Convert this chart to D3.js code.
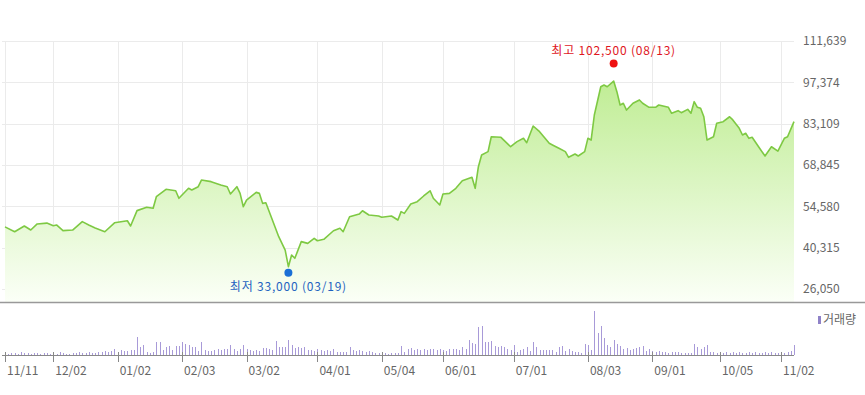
<!DOCTYPE html>
<html>
<head>
<meta charset="utf-8">
<script src="https://cdn.jsdelivr.net/npm/d3@7"></script>
<style>
  body { margin: 0; background: #fff; }
  text { font-family: "Noto Sans CJK KR", "Noto Sans", sans-serif; }
</style>
</head>
<body>
<div id="chart"></div>
<script>
// trading-day index (0 = 11/11) and closing price
const priceDay = [0,3,6,8,10,13,15,16,18,21,24,26,28,31,34,38,39,41,44,46,
  47,50,53,54,57,58,60,61,64,67,69,70,72,73,74,75,78,79,80,81,
  85,87,88,89,90,92,94,96,97,99,102,104,105,107,110,111,113,116,117,120,
  122,123,124,126,128,130,132,133,135,136,138,140,142,145,146,147,148,150,151,154,
  157,159,161,162,164,166,169,170,172,174,175,177,178,180,181,182,183,185,186,187,
  189,190,191,192,193,195,197,198,200,202,203,206,207,209,210,212,213,214,215,216,
  217,218,220,221,223,225,226,228,229,230,231,232,234,236,238,240,242,243,245];
const priceClose = [47500,45800,47800,46400,48500,48800,47900,48150,46200,46400,
  49300,48150,47100,45800,48900,49600,47800,53100,54250,53900,
  57900,60450,59950,57350,60800,60200,61350,63650,63100,61950,
  61350,58850,61350,59050,54450,56750,59400,59050,55600,55800,
  44100,39500,33750,37800,36650,42400,41800,43550,42700,43200,
  46150,47000,45800,51000,51900,53050,51600,51250,50800,51250,
  49850,52750,52150,55400,56200,58150,59950,57350,55050,58850,
  59050,60800,63400,64600,60800,68250,72300,73450,78600,78400,
  75150,76900,78050,76550,82300,80350,76350,75750,74600,73450,
  71500,72650,71950,73450,78050,77450,86100,95850,96450,95850,
  97800,94150,89550,90150,87800,90150,91300,90150,88750,88750,
  89550,88750,86700,87600,86900,88050,86700,90700,88750,88400,
  85500,77450,78600,83250,83800,85500,84400,81500,79200,79800,
  78050,78400,75150,71950,75150,73650,78050,78600,83800];

// daily volume (relative units), one per trading day
const volume = [2,1,2,2,1,3,2,2,1,2, 2,1,2,2,1,2,1,3,2,1, 1,2,2,3,2,2,3,2,2,3,
  3,4,3,4,6,3,5,4,4,5, 5,18,8,10,3,2,3,13,13,5, 8,9,5,9,9,13,11,10,8,8,
  4,13,5,4,4,5,6,5,6,6, 10,6,4,6,10,6,5,4,5,4, 7,7,6,5,14,8,8,8,15,10,
  7,8,7,8,5,5,4,6,5,4, 5,4,6,3,3,3,3,8,5,4, 5,4,3,4,3,2,2,1,2,1,
  2,2,2,9,3,6,7,5,6,5, 6,5,6,6,5,6,5,4,6,6, 6,5,8,6,15,12,11,28,29,13,
  13,14,9,8,9,8,6,5,10,3, 5,6,8,4,13,8,5,5,5,5, 5,3,8,9,4,6,4,3,3,2,
  11,10,5,44,22,29,17,10,8,15, 11,9,6,7,5,6,7,8,9,4, 6,4,3,4,3,3,2,3,3,3,
  2,2,2,2,11,8,6,8,10,3, 3,2,2,2,3,2,3,2,3,2, 2,3,2,3,2,2,3,2,3,2,
  2,3,2,3,4,10];

const xTickDay = [0,15,35,55,75,97,117,136,158,181,201,222,241];
const xTickLabel = ["11/11","12/02","01/02","02/03","03/02","04/01","05/04","06/01","07/01","08/03","09/01","10/05","11/02"];
const yTicks = [26050,40315,54580,68845,83109,97374,111639];

const highDay = 189, highValue = 102500, highLabel = "최고 102,500 (08/13)";
const lowDay = 88, lowValue = 33000, lowLabel = "최저 33,000 (03/19)";
const volLegend = "거래량";

const W = 865, H = 395;
const plot = {left: 5, right: 794, top: 41, bottom: 302};
const vol = {top: 311, base: 355};

const svg = d3.select("#chart").append("svg")
  .attr("width", W).attr("height", H);

const x = d3.scaleLinear().domain([0, volume.length - 1]).range([plot.left, plot.right]);
const y = d3.scaleLinear().domain([yTicks[0], yTicks[yTicks.length - 1]]).range([289, plot.top]);
const yv = d3.scaleLinear().domain([0, d3.max(volume)]).range([vol.base, vol.top]);

// gradient for the price area
const grad = svg.append("defs").append("linearGradient")
  .attr("id", "fillGrad").attr("gradientUnits", "userSpaceOnUse")
  .attr("x1", 0).attr("x2", 0).attr("y1", 70).attr("y2", plot.bottom);
grad.append("stop").attr("offset", 0).attr("stop-color", "#bdec90");
grad.append("stop").attr("offset", 1).attr("stop-color", "#fbfff7");

// grid
const grid = svg.append("g").attr("stroke", "#ebebeb").attr("stroke-width", 1).attr("shape-rendering", "crispEdges");
grid.selectAll(".h").data(yTicks).join("line")
  .attr("x1", 2).attr("x2", plot.right)
  .attr("y1", d => Math.round(y(d)) + 0.5).attr("y2", d => Math.round(y(d)) + 0.5);
grid.selectAll(".v").data(xTickDay).join("line")
  .attr("x1", d => Math.round(x(d)) + 0.5).attr("x2", d => Math.round(x(d)) + 0.5)
  .attr("y1", plot.top).attr("y2", plot.bottom);

// price area + line
const pts = priceDay.map((d, i) => [d, priceClose[i]]);
svg.append("path").datum(pts)
  .attr("fill", "url(#fillGrad)")
  .attr("d", d3.area().x(d => x(d[0])).y0(plot.bottom).y1(d => y(d[1])));
svg.append("path").datum(pts)
  .attr("fill", "none").attr("stroke", "#7ec943").attr("stroke-width", 1.6)
  .attr("stroke-linejoin", "round")
  .attr("d", d3.line().x(d => x(d[0])).y(d => y(d[1])));

// y labels on the right
svg.append("g").selectAll("text").data(yTicks).join("text")
  .attr("x", 803).attr("y", d => y(d)).attr("dy", "0.35em")
  .attr("font-size", 12).attr("fill", "#666")
  .text(d => d3.format(",")(d));

// separator under price pane
svg.append("line").attr("x1", 0).attr("x2", W)
  .attr("y1", plot.bottom + 0.5).attr("y2", plot.bottom + 0.5)
  .attr("stroke", "#999").attr("stroke-width", 1.5);

// high / low markers
svg.append("circle").attr("cx", x(highDay)).attr("cy", y(highValue) - 4).attr("r", 4).attr("fill", "#ee1111");
svg.append("text").attr("x", x(highDay)).attr("y", y(highValue) - 17).attr("dy", "0.35em")
  .attr("text-anchor", "middle").attr("font-size", 12).attr("letter-spacing", 0.8)
  .attr("fill", "#e0161e").text(highLabel);
svg.append("circle").attr("cx", x(lowDay)).attr("cy", y(lowValue) + 4).attr("r", 4).attr("fill", "#1a6fd6");
svg.append("text").attr("x", x(lowDay)).attr("y", y(lowValue) + 18).attr("dy", "0.35em")
  .attr("text-anchor", "middle").attr("font-size", 12).attr("letter-spacing", 0.8)
  .attr("fill", "#1e62c0").text(lowLabel);

// volume bars
svg.append("g").selectAll("line").data(volume).join("line")
  .attr("x1", (d, i) => Math.round(x(i)) + 0.5).attr("x2", (d, i) => Math.round(x(i)) + 0.5)
  .attr("y1", vol.base).attr("y2", d => yv(d))
  .attr("stroke", "#a89ad8").attr("stroke-width", 1);

// volume baseline and ticks
svg.append("line").attr("x1", 2).attr("x2", plot.right)
  .attr("y1", vol.base + 0.5).attr("y2", vol.base + 0.5)
  .attr("stroke", "#888").attr("stroke-width", 1);
svg.append("g").selectAll("line").data(xTickDay).join("line")
  .attr("x1", d => Math.round(x(d)) + 0.5).attr("x2", d => Math.round(x(d)) + 0.5)
  .attr("y1", vol.base - 3).attr("y2", vol.base + 7)
  .attr("stroke", "#888");

// x labels
svg.append("g").selectAll("text").data(xTickDay).join("text")
  .attr("x", d => x(d) + 2).attr("y", 371).attr("dy", "0.35em")
  .attr("font-size", 12).attr("fill", "#666")
  .text((d, i) => xTickLabel[i]);

// volume legend
svg.append("rect").attr("x", 818).attr("y", 316).attr("width", 3).attr("height", 8).attr("fill", "#8f82c8");
svg.append("text").attr("x", 823).attr("y", 320).attr("dy", "0.35em")
  .attr("font-size", 12).attr("fill", "#666").text(volLegend);
</script>
</body>
</html>
